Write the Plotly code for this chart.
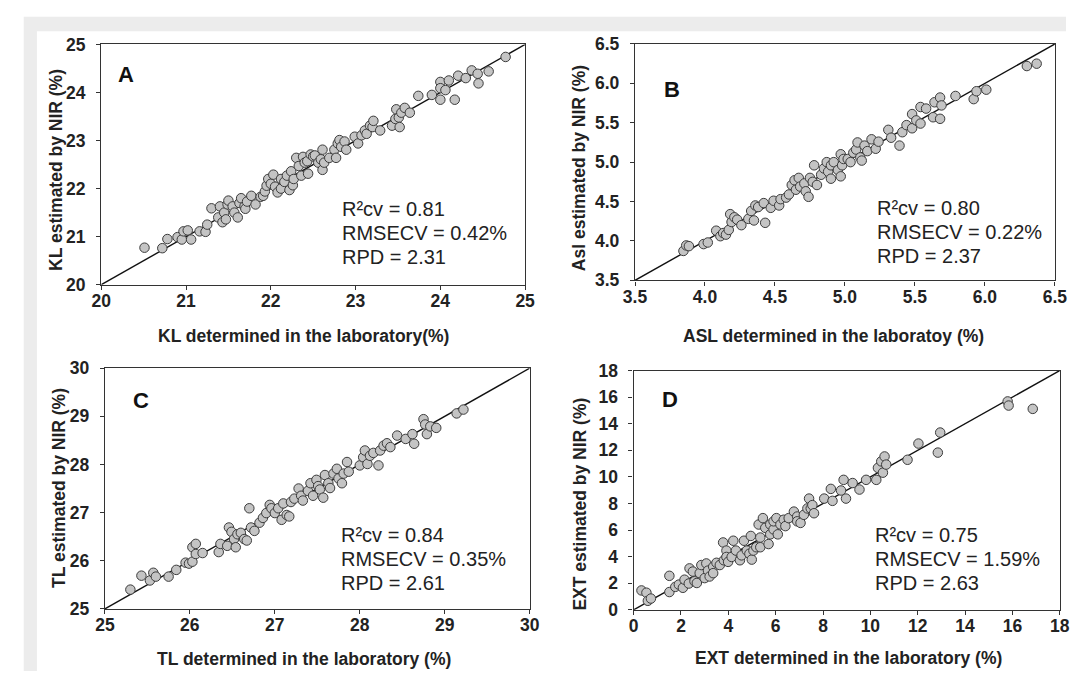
import plotly.graph_objects as go

# --- data ---
kl_lab = [20.51, 20.72, 20.78, 20.90, 20.95, 20.97, 21.02, 21.06, 21.16, 21.23, 21.25, 21.30, 21.38, 21.40,
          21.43, 21.45, 21.47, 21.49, 21.50, 21.55, 21.57, 21.61, 21.63, 21.65, 21.69, 21.70, 21.72, 21.77,
          21.82, 21.88, 21.91, 21.93, 21.95, 21.97, 22.00, 22.03, 22.05, 22.08, 22.12, 22.12, 22.16, 22.19,
          22.22, 22.24, 22.26, 22.27, 22.30, 22.33, 22.36, 22.38, 22.40, 22.43, 22.44, 22.47, 22.50, 22.52,
          22.56, 22.59, 22.61, 22.61, 22.63, 22.69, 22.75, 22.77, 22.79, 22.81, 22.83, 22.87, 22.89, 22.99,
          23.03, 23.07, 23.11, 23.13, 23.17, 23.20, 23.21, 23.29, 23.43, 23.47, 23.48, 23.51, 23.52, 23.54,
          23.58, 23.64, 23.74, 23.90, 24.00, 24.00, 24.00, 24.06, 24.10, 24.17, 24.21, 24.30, 24.37, 24.44,
          24.45, 24.57, 24.77]
kl_nir = [20.77, 20.76, 20.95, 20.99, 20.94, 21.11, 21.13, 20.94, 21.11, 21.10, 21.25, 21.59, 21.40, 21.63,
          21.30, 21.50, 21.36, 21.67, 21.75, 21.63, 21.50, 21.40, 21.70, 21.80, 21.63, 21.58, 21.73, 21.85,
          21.67, 21.83, 21.85, 21.94, 22.06, 22.20, 22.10, 22.29, 22.04, 21.92, 22.00, 22.20, 22.14, 22.27,
          21.97, 22.36, 22.07, 22.20, 22.64, 22.47, 22.27, 22.66, 22.54, 22.57, 22.31, 22.71, 22.67, 22.69,
          22.54, 22.61, 22.81, 22.39, 22.54, 22.64, 22.81, 22.64, 22.94, 23.01, 22.87, 22.98, 22.81, 23.08,
          22.94, 23.11, 23.21, 23.14, 23.31, 23.28, 23.41, 23.21, 23.31, 23.45, 23.65, 23.48, 23.28, 23.58,
          23.68, 23.58, 23.93, 23.95, 23.85, 24.22, 24.09, 24.05, 24.25, 23.85, 24.35, 24.30, 24.46, 24.39,
          24.19, 24.44, 24.74]

asl_lab = [3.846, 3.866, 3.885, 3.99, 4.02, 4.08, 4.11, 4.13, 4.15, 4.17, 4.18, 4.19, 4.21, 4.23, 4.26,
           4.31, 4.33, 4.35, 4.36, 4.38, 4.42, 4.43, 4.47, 4.49, 4.53, 4.54, 4.58, 4.60, 4.62, 4.64, 4.65,
           4.67, 4.68, 4.71, 4.72, 4.74, 4.75, 4.77, 4.78, 4.80, 4.83, 4.85, 4.87, 4.88, 4.90, 4.90, 4.92,
           4.95, 4.97, 4.97, 4.98, 4.99, 5.02, 5.04, 5.06, 5.08, 5.09, 5.11, 5.12, 5.14, 5.16, 5.19, 5.22,
           5.24, 5.31, 5.33, 5.39, 5.41, 5.44, 5.48, 5.48, 5.51, 5.54, 5.54, 5.58, 5.63, 5.64, 5.68, 5.68,
           5.69, 5.79, 5.92, 5.94, 6.01, 6.30, 6.37]
asl_nir = [3.873, 3.943, 3.934, 3.96, 3.98, 4.13, 4.06, 4.10, 4.08, 4.14, 4.34, 4.24, 4.30, 4.27, 4.20,
           4.28, 4.38, 4.26, 4.45, 4.43, 4.48, 4.23, 4.42, 4.51, 4.45, 4.53, 4.55, 4.59, 4.71, 4.77, 4.65,
           4.80, 4.69, 4.73, 4.63, 4.56, 4.80, 4.75, 4.96, 4.71, 4.84, 4.92, 5.00, 4.88, 4.79, 4.96, 5.00,
           4.90, 5.10, 4.82, 4.96, 5.04, 5.04, 5.00, 5.12, 5.16, 5.25, 5.06, 5.02, 5.21, 5.14, 5.29, 5.17,
           5.26, 5.41, 5.31, 5.21, 5.38, 5.47, 5.43, 5.61, 5.53, 5.49, 5.70, 5.68, 5.57, 5.76, 5.82, 5.55,
           5.72, 5.84, 5.80, 5.90, 5.92, 6.22, 6.25]

tl_lab = [25.30, 25.43, 25.53, 25.57, 25.60, 25.75, 25.84, 25.95, 25.99, 26.03, 26.03, 26.07, 26.07, 26.15,
          26.34, 26.36, 26.44, 26.46, 26.49, 26.52, 26.54, 26.56, 26.60, 26.64, 26.67, 26.70, 26.72, 26.76,
          26.82, 26.86, 26.90, 26.94, 26.96, 27.00, 27.04, 27.08, 27.10, 27.14, 27.17, 27.19, 27.23, 27.28,
          27.31, 27.33, 27.39, 27.42, 27.45, 27.49, 27.51, 27.53, 27.57, 27.59, 27.63, 27.65, 27.69, 27.73,
          27.75, 27.79, 27.81, 27.85, 27.87, 28.00, 28.04, 28.06, 28.09, 28.12, 28.16, 28.22, 28.24, 28.28,
          28.32, 28.36, 28.44, 28.54, 28.62, 28.64, 28.75, 28.77, 28.79, 28.83, 28.90, 29.14, 29.22]
tl_nir = [25.40, 25.69, 25.59, 25.75, 25.67, 25.67, 25.81, 25.96, 25.94, 25.98, 26.28, 26.35, 26.14, 26.16,
          26.18, 26.35, 26.31, 26.69, 26.60, 26.45, 26.28, 26.55, 26.58, 26.45, 26.42, 27.09, 26.69, 26.62,
          26.79, 26.89, 26.99, 27.16, 27.09, 26.99, 27.09, 26.85, 27.19, 26.95, 26.92, 27.22, 27.29, 27.50,
          27.35, 27.25, 27.45, 27.61, 27.35, 27.68, 27.55, 27.48, 27.31, 27.78, 27.61, 27.51, 27.81, 27.91,
          27.71, 27.61, 27.81, 28.05, 27.85, 27.98, 28.15, 28.29, 28.01, 28.18, 28.24, 27.98, 28.29, 28.39,
          28.44, 28.36, 28.60, 28.53, 28.63, 28.43, 28.94, 28.83, 28.63, 28.79, 28.76, 29.06, 29.14]

ext_lab = [0.33, 0.54, 0.60, 0.73, 1.51, 1.51, 1.76, 1.91, 2.08, 2.15, 2.33, 2.36, 2.50, 2.57, 2.67, 2.79,
           2.86, 3.00, 3.07, 3.14, 3.21, 3.36, 3.36, 3.50, 3.64, 3.78, 3.81, 3.92, 3.92, 3.99, 4.14, 4.21,
           4.32, 4.49, 4.56, 4.66, 4.78, 4.89, 4.95, 4.99, 5.06, 5.18, 5.28, 5.35, 5.35, 5.46, 5.56, 5.70,
           5.77, 5.77, 5.91, 5.91, 6.03, 6.09, 6.20, 6.34, 6.41, 6.55, 6.77, 6.91, 6.91, 7.05, 7.19, 7.34,
           7.41, 7.48, 7.55, 7.62, 8.05, 8.33, 8.40, 8.76, 8.87, 8.97, 9.25, 9.54, 9.82, 10.25, 10.32, 10.46,
           10.53, 10.60, 10.67, 11.57, 12.03, 12.85, 12.95, 15.80, 15.84, 16.86]
ext_nir = [1.46, 1.29, 0.68, 0.85, 2.56, 1.34, 1.73, 1.90, 1.66, 2.27, 1.98, 3.12, 2.88, 2.15, 2.02, 2.76,
           3.37, 2.39, 3.49, 2.95, 2.51, 3.24, 2.76, 3.54, 3.37, 5.07, 3.73, 4.46, 3.98, 3.61, 3.98, 5.20,
           4.46, 3.73, 4.10, 5.20, 4.46, 4.22, 5.56, 3.78, 4.46, 4.71, 6.42, 5.44, 4.71, 6.90, 6.17, 4.95,
           6.42, 5.68, 6.05, 6.66, 6.90, 5.68, 6.42, 6.78, 6.30, 6.90, 7.39, 7.02, 6.66, 6.54, 7.15, 7.63,
           8.37, 7.63, 7.88, 7.27, 8.37, 9.10, 8.20, 8.98, 9.78, 8.37, 9.54, 9.05, 9.78, 9.78, 10.68, 11.17,
           10.32, 11.54, 10.93, 11.29, 12.51, 11.83, 13.34, 15.68, 15.37, 15.12]

kl_ticks = [20, 21, 22, 23, 24, 25]
asl_ticks = [3.5, 4.0, 4.5, 5.0, 5.5, 6.0, 6.5]
tl_ticks = [25, 26, 27, 28, 29, 30]
ext_ticks = [0, 2, 4, 6, 8, 10, 12, 14, 16, 18]

letters = ["A", "B", "C", "D"]
x_titles = ["KL determined in the laboratory(%)", "ASL determined in the laboratoy (%)",
            "TL determined in the laboratory (%)", "EXT determined in the laboratory (%)"]
y_titles = ["KL estimated by NIR (%)", "Asl estimated by NIR (%)",
            "TL estimated by NIR (%)", "EXT estimated by NIR (%)"]
stats = [["R²cv = 0.81", "RMSECV = 0.42%", "RPD = 2.31"],
         ["R²cv = 0.80", "RMSECV = 0.22%", "RPD = 2.37"],
         ["R²cv = 0.84", "RMSECV = 0.35%", "RPD = 2.61"],
         ["R²cv = 0.75", "RMSECV = 1.59%", "RPD = 2.63"]]

series = [(kl_lab, kl_nir, kl_ticks), (asl_lab, asl_nir, asl_ticks),
          (tl_lab, tl_nir, tl_ticks), (ext_lab, ext_nir, ext_ticks)]

# --- layout, in page pixels (figure fills the 1078 x 681 window) ---
W, H = 1078, 681


def px(x):
    return x / W


def py(y):
    return 1 - y / H


boxes = [(91.3, 524.8, 35.5, 283), (637.2, 1066.6, 35, 278.5),
         (95, 529.5, 369, 617), (635.8, 1071.6, 371.5, 618)]
letter_pos = [(0.035, 0.874), (0.065, 0.808), (0.0605, 0.866), (0.063, 0.878)]
stat_pos = [(0.564, 0.214), (0.571, 0.2045), (0.550, 0.207), (0.562, 0.214)]
xtitle_pos = [(298, 335.5), (840, 335.5), (299, 668.3), (855.7, 668)]
ytitle_pos = [(44.8, 165), (579.3, 162.5), (47.5, 492), (580, 509.5)]

FONT = "Liberation Sans, Arial, sans-serif"
INK = "#222222"

fig = go.Figure()
layout = dict(width=W, height=H, margin=dict(l=0, r=0, t=0, b=0),
              paper_bgcolor="white", plot_bgcolor="white", showlegend=False,
              font=dict(family=FONT, color=INK), annotations=[], shapes=[])

# grey frame around the figure
layout["shapes"].append(dict(type="rect", xref="paper", yref="paper", x0=px(12), x1=1, y0=0, y1=py(7),
                             fillcolor="#ececec", line=dict(width=0), layer="below"))
layout["shapes"].append(dict(type="rect", xref="paper", yref="paper", x0=px(25.5), x1=1, y0=0, y1=py(22),
                             fillcolor="white", line=dict(width=0), layer="below"))

for i, (lab, nir, ticks) in enumerate(series):
    n = "" if i == 0 else str(i + 1)
    x0, x1, y0, y1 = boxes[i]
    lo, hi = ticks[0], ticks[-1]
    if isinstance(ticks[0], float):
        labels = ["%.1f" % t for t in ticks]
    else:
        labels = [str(t) for t in ticks]
    axis_style = dict(range=[lo, hi], tickvals=ticks, ticktext=labels, showline=True, mirror=True,
                      linecolor="#333333", linewidth=1.4, ticks="outside", ticklen=4, tickwidth=1.3,
                      tickcolor="#333333", showgrid=False, zeroline=False,
                      tickfont=dict(family=FONT, size=17.5, color=INK, weight="bold"))
    layout["xaxis" + n] = dict(axis_style, domain=[px(x0), px(x1)], anchor="y" + n, ticklabelstandoff=-4)
    layout["yaxis" + n] = dict(axis_style, domain=[py(y1), py(y0)], anchor="x" + n, ticklabelstandoff=7)

    # 1:1 line
    fig.add_trace(go.Scatter(x=[lo, hi], y=[lo, hi], mode="lines", xaxis="x" + n, yaxis="y" + n,
                             line=dict(color="#111111", width=1.4)))
    fig.add_trace(go.Scatter(x=lab, y=nir, mode="markers", xaxis="x" + n, yaxis="y" + n,
                             marker=dict(size=9.5, color="#c4c4c4", line=dict(color="#3c3c3c", width=1))))

    layout["annotations"].append(dict(text=letters[i], xref="x%s domain" % n, yref="y%s domain" % n,
                                      x=letter_pos[i][0], y=letter_pos[i][1], xanchor="left", yanchor="middle",
                                      showarrow=False, font=dict(size=22, color="#111111", weight="bold")))
    for k, line in enumerate(stats[i]):
        layout["annotations"].append(dict(text=line, xref="x%s domain" % n, yref="y%s domain" % n,
                                          x=stat_pos[i][0], y=stat_pos[i][1], yshift=24 * (1 - k),
                                          xanchor="left", yanchor="middle", showarrow=False,
                                          font=dict(size=20, color=INK)))
    tx, ty = xtitle_pos[i]
    layout["annotations"].append(dict(text=x_titles[i], xref="paper", yref="paper", x=px(tx), y=py(ty),
                                      xanchor="center", yanchor="middle", showarrow=False,
                                      font=dict(size=17.5, color=INK, weight="bold")))
    tx, ty = ytitle_pos[i]
    layout["annotations"].append(dict(text=y_titles[i], xref="paper", yref="paper", x=px(tx), y=py(ty),
                                      xanchor="center", yanchor="middle", textangle=-90, showarrow=False,
                                      font=dict(size=17.5, color=INK, weight="bold")))

fig.update_layout(layout)
# drop the default body margin so the figure sits flush in the window
fig.write_html("out.html", config={"displayModeBar": False},
               post_script="document.body.style.margin='0';document.body.style.overflow='hidden';")
